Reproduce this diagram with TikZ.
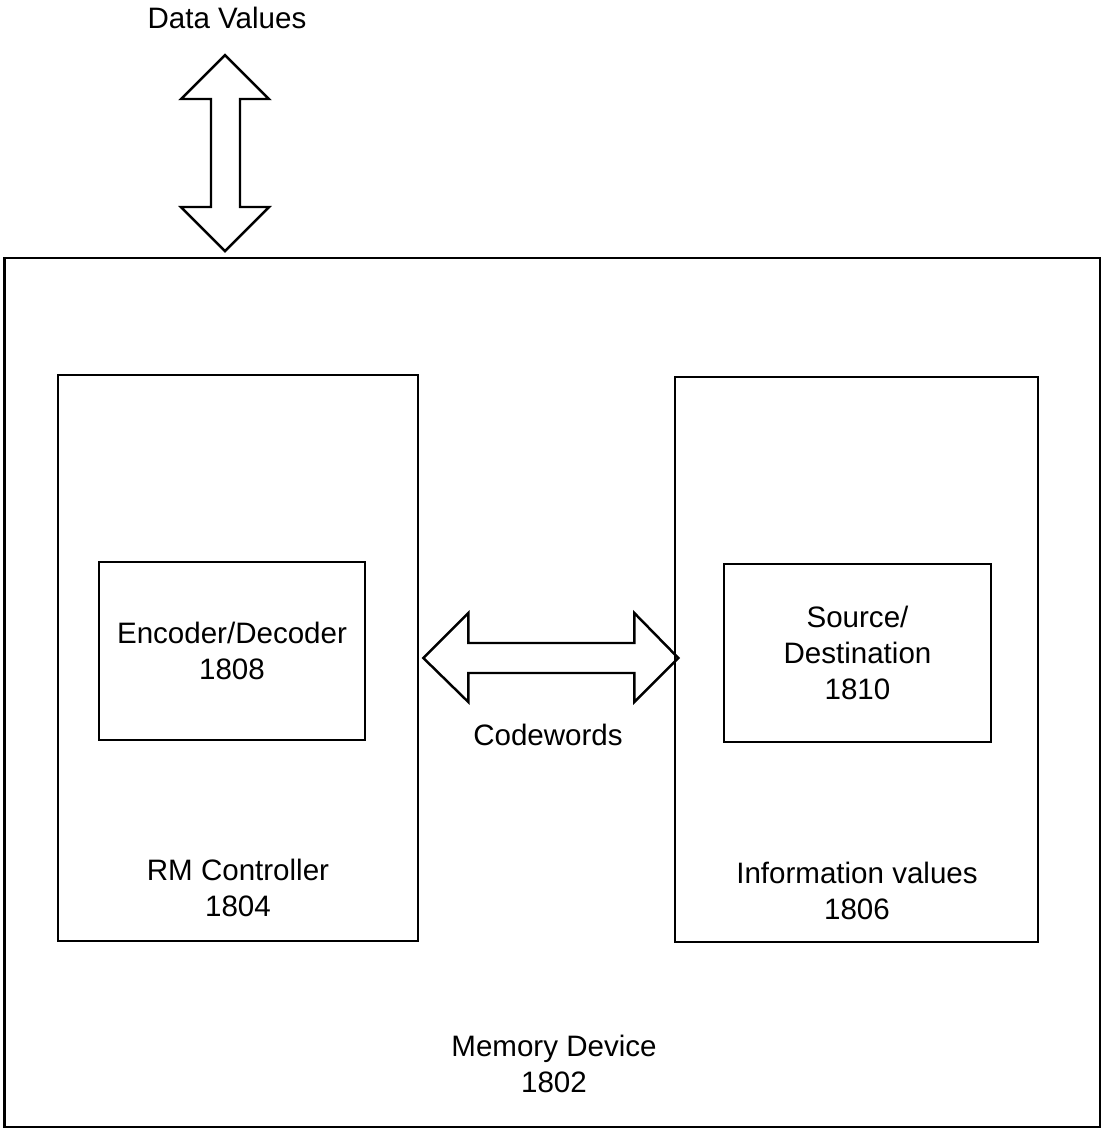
\documentclass[tikz,border=0pt]{standalone}
\usepackage{fontspec}
\setmainfont{Liberation Sans}
\usetikzlibrary{positioning,calc}
\tikzset{
        box/.style={draw, thick, line width=0.7pt, inner sep=0pt}, % plain rectangles
        lbl/.style={align=center, font=\fontsize{8.4}{10.3}\selectfont}, % text under / in boxes
        fatarrow/.style={draw, line width=0.7pt, line join=miter}, % hollow double arrows
}
\begin{document}
\begin{tikzpicture}[x=0.01cm,y=-0.01cm]
\useasboundingbox (0,0) rectangle (1101,1129);

% boxes
\node[box, minimum width=10.95cm, minimum height=8.69cm] (mem) at (552.5,692.5) {};
\node[box, minimum width=3.6cm, minimum height=5.66cm] (ctrl) at (238,658) {};
\node[box, minimum width=3.63cm, minimum height=5.65cm] (info) at (856.5,659.5) {};
\node[box, lbl, minimum width=2.66cm, minimum height=1.78cm] (encdec) at (232,651) {Encoder/Decoder\\1808};
\node[box, lbl, minimum width=2.67cm, minimum height=1.78cm] (srcdst) at (857.5,653) {Source/\\Destination\\1810};

% labels
\node[lbl] (datav) at (227,18) {Data Values};
\node[lbl] (cw) at (548,735) {Codewords};
\node[lbl] (ctrllbl) at (238,888) {RM Controller\\1804};
\node[lbl] (infolbl) at (857,891) {Information values\\1806};
\node[lbl] (memlbl) at (554,1064) {Memory Device\\1802};

% data values arrow
\coordinate (dvtip) at ($(datav.south)+(-2,0)$);
\draw[fatarrow] (dvtip |- 0,55) -- ++(44,44) -- ++(-29,0) -- ++(0,108) -- ++(29,0)
  -- ++(-44,44) -- ++(-44,-44) -- ++(30,0) -- ++(0,-108) -- ++(-30,0) -- cycle;

% codewords arrow
\coordinate (cwtip) at ($(ctrl.east)+(4,0)$);
\draw[fatarrow] (cwtip) -- ++(45,-45) -- ++(0,30) -- ++(166,0) -- ++(0,-30)
  -- ++(44,45) -- ++(-44,44) -- ++(0,-29) -- ++(-166,0) -- ++(0,29) -- cycle;
\end{tikzpicture}
\end{document}
